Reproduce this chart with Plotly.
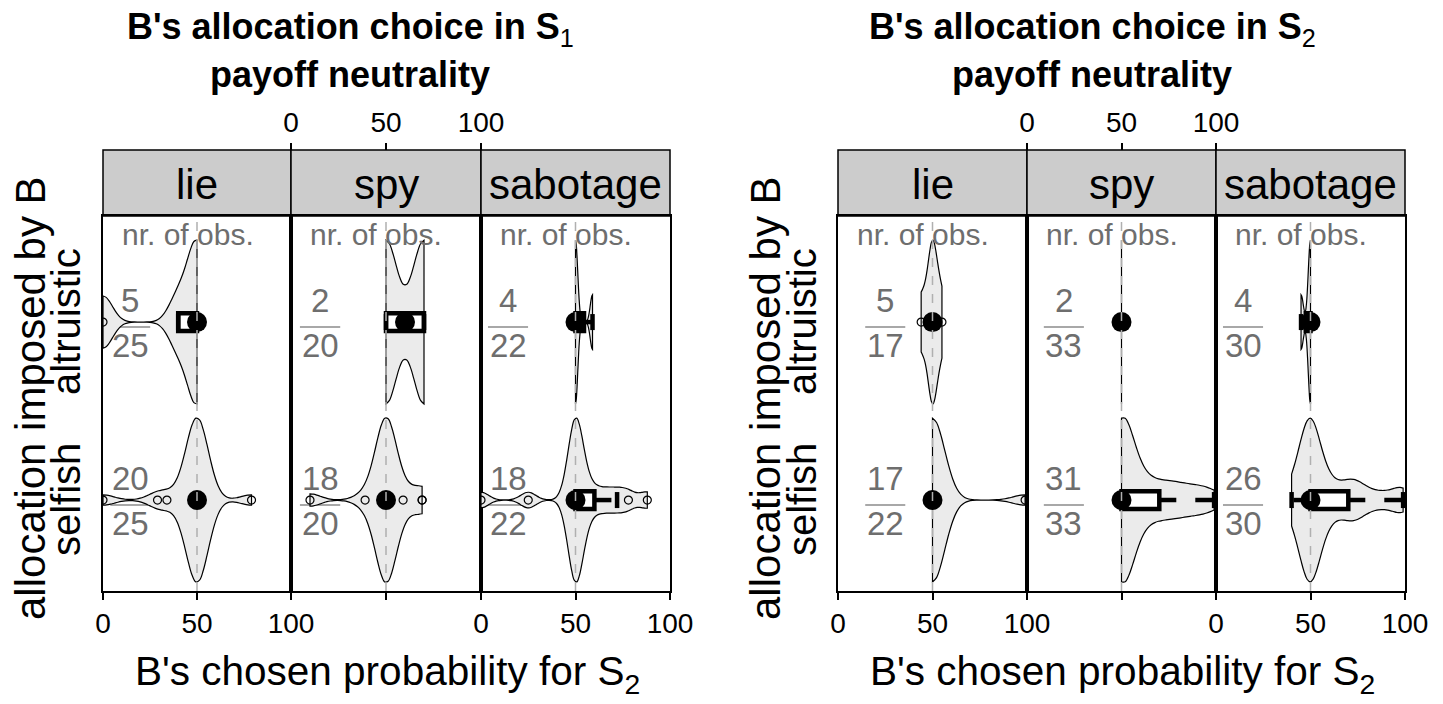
import math
import plotly.graph_objects as go

# ---------------- text ----------------
facet_names = ["lie", "spy", "sabotage"]
row_names = ["altruistic", "selfish"]
row_pos = [1, 0]
x_tick_vals = [0, 50, 100]
x_tick_text = ["0", "50", "100"]
panel_titles = ["<b>B's allocation choice in S</b><sub>1</sub>",
                "<b>B's allocation choice in S</b><sub>2</sub>"]
panel_subtitle = "<b>payoff neutrality</b>"
x_title = "B's chosen probability for S<sub>2</sub>"
y_title = "allocation imposed by B"
obs_title = "nr. of obs."
neutral_value = 50

# ---------------- data: B's chosen probability for S2 (%) ----------------
s1_lie_altruistic = [0, 40, 50, 50, 50]
s1_lie_selfish = [0, 29, 34, 50, 50, 50, 50, 50, 50, 50, 50, 50, 50, 50, 50, 50, 50, 50, 50, 79]
s1_spy_altruistic = [50, 70]
s1_spy_selfish = [10, 39, 50, 50, 50, 50, 50, 50, 50, 50, 50, 50, 50, 50, 50, 59, 69, 69]
s1_sabotage_altruistic = [50, 50, 50, 59]
s1_sabotage_selfish = [0, 25, 50, 50, 50, 50, 50, 50, 50, 50, 50, 50, 55, 60, 66, 72, 78, 88]

s2_lie_altruistic = [44, 50, 50, 50, 55]
s2_lie_selfish = [50, 50, 50, 50, 50, 50, 50, 50, 50, 50, 50, 50, 50, 50, 50, 50, 99]
s2_spy_altruistic = [50, 50]
s2_spy_selfish = [50, 50, 50, 50, 50, 50, 50, 50, 50, 50, 50, 50, 50, 50, 50, 50,
                  53, 55, 57, 60, 62, 65, 68, 72, 75, 78, 82, 86, 90, 95, 99]
s2_sabotage_altruistic = [45, 50, 50, 50]
s2_sabotage_selfish = [40, 43, 45, 47, 48, 50, 50, 50, 50, 50, 50, 50, 50, 50,
                       53, 55, 58, 60, 65, 70, 72, 75, 80, 88, 97, 99]

# number of observations shown as fractions (per facet: [altruistic, selfish])
s1_obs_numerators = [["5", "20"], ["2", "18"], ["4", "18"]]
s1_obs_denominators = [["25", "25"], ["20", "20"], ["22", "22"]]
s2_obs_numerators = [["5", "17"], ["2", "31"], ["4", "26"]]
s2_obs_denominators = [["17", "22"], ["33", "33"], ["30", "30"]]

# ---------------- style / geometry ----------------
W, H = 1443, 704
FONT = "Liberation Sans, Arial, Helvetica, sans-serif"
GRAY_TEXT = "#6e6e6e"
s1_bandwidths = [[5, 6], [5.8, 5.5], [1.2, 4]]
s2_bandwidths = [[2.5, 6.5], [5, 6], [1.2, 5]]
s1_frac_x = [14.5, 15.3, 14.3]
s2_frac_x = [25, 19.5, 14.3]
facet_edges_px = [[103, 291, 481, 670], [838, 1027, 1216, 1405]]
panel_top_px, panel_bottom_px, strip_top_px = 216, 591, 150
px_per_unit = 178.0
y_range = [-0.511, 1.596]
violin_width = 0.92
box_width = 0.1
staple_half = 0.045
box_lw = 4.5
title_cx_px = [350, 1092]
xtitle_cx_px = [387, 1122]
ytitle_x_px = [30, 765]
rowlabel_x_px = [66, 802]

cells = [
    [[s1_lie_altruistic, s1_lie_selfish], [s1_spy_altruistic, s1_spy_selfish],
     [s1_sabotage_altruistic, s1_sabotage_selfish]],
    [[s2_lie_altruistic, s2_lie_selfish], [s2_spy_altruistic, s2_spy_selfish],
     [s2_sabotage_altruistic, s2_sabotage_selfish]],
]
numerators = [s1_obs_numerators, s2_obs_numerators]
denominators = [s1_obs_denominators, s2_obs_denominators]
bandwidths = [s1_bandwidths, s2_bandwidths]
frac_x = [s1_frac_x, s2_frac_x]


def px_x(px):
    return px / W


def px_y(py):
    return 1 - py / H


def fivenum(v):
    x = sorted(v)
    n = len(x)
    n4 = ((n + 3) // 2) / 2
    d = [1, n4, (n + 1) / 2, n + 1 - n4, n]
    return [0.5 * (x[int(math.floor(di)) - 1] + x[int(math.ceil(di)) - 1]) for di in d]


def box_stats(v):
    f = fivenum(v)
    q1, med, q3 = f[1], f[2], f[3]
    iqr = q3 - q1
    lo, hi = q1 - 1.5 * iqr, q3 + 1.5 * iqr
    inside = [a for a in v if lo <= a <= hi]
    out = [a for a in v if a < lo or a > hi]
    return q1, med, q3, min(inside), max(inside), out


fig = go.Figure()
layout = {}
shapes = []
annotations = []

for p in range(2):
    for f in range(3):
        idx = p * 3 + f + 1
        xa = "x" if idx == 1 else f"x{idx}"
        ya = "y" if idx == 1 else f"y{idx}"
        xkey = "xaxis" if idx == 1 else f"xaxis{idx}"
        ykey = "yaxis" if idx == 1 else f"yaxis{idx}"
        x0px, x1px = facet_edges_px[p][f], facet_edges_px[p][f + 1]
        layout[xkey] = dict(domain=[px_x(x0px), px_x(x1px)], anchor=ya, range=[0, 100],
                            automargin=False,
                            tickmode="array", tickvals=x_tick_vals, ticktext=x_tick_text,
                            showticklabels=(f != 1), ticks="outside", ticklen=7, tickwidth=1.5,
                            tickcolor="black", showline=True, linecolor="black", linewidth=1.5,
                            mirror=True, showgrid=False, zeroline=False,
                            tickfont=dict(size=28, color="black", family=FONT))
        layout[ykey] = dict(domain=[px_y(panel_bottom_px), px_y(panel_top_px)], anchor=xa,
                            range=y_range, automargin=False, showticklabels=False, ticks="",
                            showline=True, linecolor="black", linewidth=1.5, mirror=True,
                            showgrid=False, zeroline=False)

        # strip
        shapes.append(dict(type="rect", xref=f"{xa} domain", x0=0, x1=1, yref="paper",
                           y0=px_y(panel_top_px), y1=px_y(strip_top_px), fillcolor="#cccccc",
                           line=dict(color="black", width=1.5), layer="below"))
        annotations.append(dict(text=facet_names[f], xref=f"{xa} domain", x=0.5, yref="paper",
                                y=px_y(185), showarrow=False, xanchor="center", yanchor="middle",
                                font=dict(size=42, color="black", family=FONT)))
        # neutrality reference line
        shapes.append(dict(type="line", xref=xa, x0=neutral_value, x1=neutral_value,
                           yref=f"{ya} domain", y0=0, y1=1,
                           line=dict(color="#b0b0b0", width=1.5, dash="dash"), layer="above"))
        # obs title
        annotations.append(dict(text=obs_title, xref=xa, x=9, yref="paper", y=px_y(235),
                                showarrow=False, xanchor="left", yanchor="middle",
                                font=dict(size=30, color=GRAY_TEXT, family=FONT)))

        for r in range(2):
            vals = cells[p][f][r]
            pos = row_pos[r]
            bw = bandwidths[p][f][r]
            if f == 0:
                # row label (rotated), positioned on the row of the first facet
                annotations.append(dict(text=row_names[r], xref="paper", x=px_x(rowlabel_x_px[p]),
                                        yref=ya, y=pos, showarrow=False, xanchor="center",
                                        yanchor="middle", textangle=-90,
                                        font=dict(size=40, color="black", family=FONT)))
            if max(vals) > min(vals):
                fig.add_trace(go.Violin(
                    x=vals, y0=pos, orientation="h", xaxis=xa, yaxis=ya,
                    width=violin_width, scalemode="width", spanmode="hard", bandwidth=bw,
                    fillcolor="#ebebeb", line=dict(color="black", width=1.2),
                    points=False, box_visible=False, meanline_visible=False,
                    hoverinfo="skip", showlegend=False))
            else:
                fig.add_trace(go.Scatter(
                    x=[vals[0], vals[0]], y=[pos - violin_width / 2, pos + violin_width / 2],
                    xaxis=xa, yaxis=ya, mode="lines", line=dict(color="black", width=1.2),
                    hoverinfo="skip", showlegend=False))

            q1, med, q3, wlo, whi, outl = box_stats(vals)
            # whiskers (dashed) and staples
            fig.add_trace(go.Scatter(
                x=[q3, whi, None, q1, wlo], y=[pos, pos, None, pos, pos],
                xaxis=xa, yaxis=ya, mode="lines",
                line=dict(color="black", width=box_lw, dash="17px,19px"),
                hoverinfo="skip", showlegend=False))
            fig.add_trace(go.Scatter(
                x=[whi, whi, None, wlo, wlo],
                y=[pos - staple_half, pos + staple_half, None, pos - staple_half, pos + staple_half],
                xaxis=xa, yaxis=ya, mode="lines", line=dict(color="black", width=box_lw),
                hoverinfo="skip", showlegend=False))
            # box
            fig.add_trace(go.Box(
                y=[pos], q1=[q1], median=[med], q3=[q3], lowerfence=[q1], upperfence=[q3],
                orientation="h", xaxis=xa, yaxis=ya, width=box_width, whiskerwidth=0,
                fillcolor="white", line=dict(color="black", width=box_lw),
                boxpoints=False, hoverinfo="skip", showlegend=False))
            # outliers
            if outl:
                fig.add_trace(go.Scatter(
                    x=outl, y=[pos] * len(outl), xaxis=xa, yaxis=ya, mode="markers",
                    marker=dict(symbol="circle-open", size=8, color="black", line=dict(width=1.2)),
                    hoverinfo="skip", showlegend=False))
            # median dot
            fig.add_trace(go.Scatter(
                x=[med], y=[pos], xaxis=xa, yaxis=ya, mode="markers",
                marker=dict(symbol="circle", size=20, color="black"),
                hoverinfo="skip", showlegend=False))

            # observation fraction
            fx = frac_x[p][f]
            annotations.append(dict(text=numerators[p][f][r], xref=xa, x=fx, yref=ya, y=pos,
                                    yshift=22, showarrow=False, xanchor="center", yanchor="middle",
                                    font=dict(size=33, color=GRAY_TEXT, family=FONT)))
            annotations.append(dict(text=denominators[p][f][r], xref=xa, x=fx, yref=ya, y=pos,
                                    yshift=-23, showarrow=False, xanchor="center", yanchor="middle",
                                    font=dict(size=33, color=GRAY_TEXT, family=FONT)))
            shapes.append(dict(type="line", xref=xa, x0=fx - 10.6, x1=fx + 10.6, yref=ya,
                               y0=pos - 5 / px_per_unit, y1=pos - 5 / px_per_unit,
                               line=dict(color="#a8a8a8", width=2), layer="below"))

    # top axis above the middle facet's strip
    mid = p * 3 + 2
    top_idx = 7 + p
    layout[f"xaxis{top_idx}"] = dict(overlaying=f"x{mid}", anchor="free", position=px_y(strip_top_px),
                                     side="top", range=[0, 100], automargin=False, tickmode="array",
                                     tickvals=x_tick_vals, ticktext=x_tick_text, ticks="outside",
                                     ticklen=7, tickwidth=1.5, tickcolor="black", showline=False,
                                     showgrid=False, zeroline=False,
                                     tickfont=dict(size=28, color="black", family=FONT))
    fig.add_trace(go.Scatter(x=x_tick_vals, y=[row_pos[0]] * len(x_tick_vals),
                             xaxis=f"x{top_idx}", yaxis=f"y{mid}", mode="markers",
                             marker=dict(opacity=0), hoverinfo="skip", showlegend=False))

    # titles
    annotations.append(dict(text=panel_titles[p], xref="paper", x=px_x(title_cx_px[p]), yref="paper",
                            y=px_y(29), showarrow=False, xanchor="center", yanchor="middle",
                            font=dict(size=36, color="black", family=FONT)))
    annotations.append(dict(text=panel_subtitle, xref="paper", x=px_x(title_cx_px[p]), yref="paper",
                            y=px_y(74), showarrow=False, xanchor="center", yanchor="middle",
                            font=dict(size=36, color="black", family=FONT)))
    annotations.append(dict(text=x_title, xref="paper", x=px_x(xtitle_cx_px[p]), yref="paper",
                            y=px_y(674), showarrow=False, xanchor="center", yanchor="middle",
                            font=dict(size=40.5, color="black", family=FONT)))
    annotations.append(dict(text=y_title, xref="paper", x=px_x(ytitle_x_px[p]), yref="paper",
                            y=px_y(398), showarrow=False, xanchor="center", yanchor="middle",
                            textangle=-90, font=dict(size=42, color="black", family=FONT)))

fig.update_layout(
    template="none",
    width=W, height=H, margin=dict(l=0, r=0, t=0, b=0, autoexpand=False),
    paper_bgcolor="white", plot_bgcolor="white", showlegend=False,
    font=dict(family=FONT, color="black"), shapes=shapes, annotations=annotations,
    violinmode="overlay", boxmode="overlay", hovermode=False, **layout)

fig.write_html("out.html",
               post_script="document.body.style.margin='0px';document.body.style.overflow='hidden';")
